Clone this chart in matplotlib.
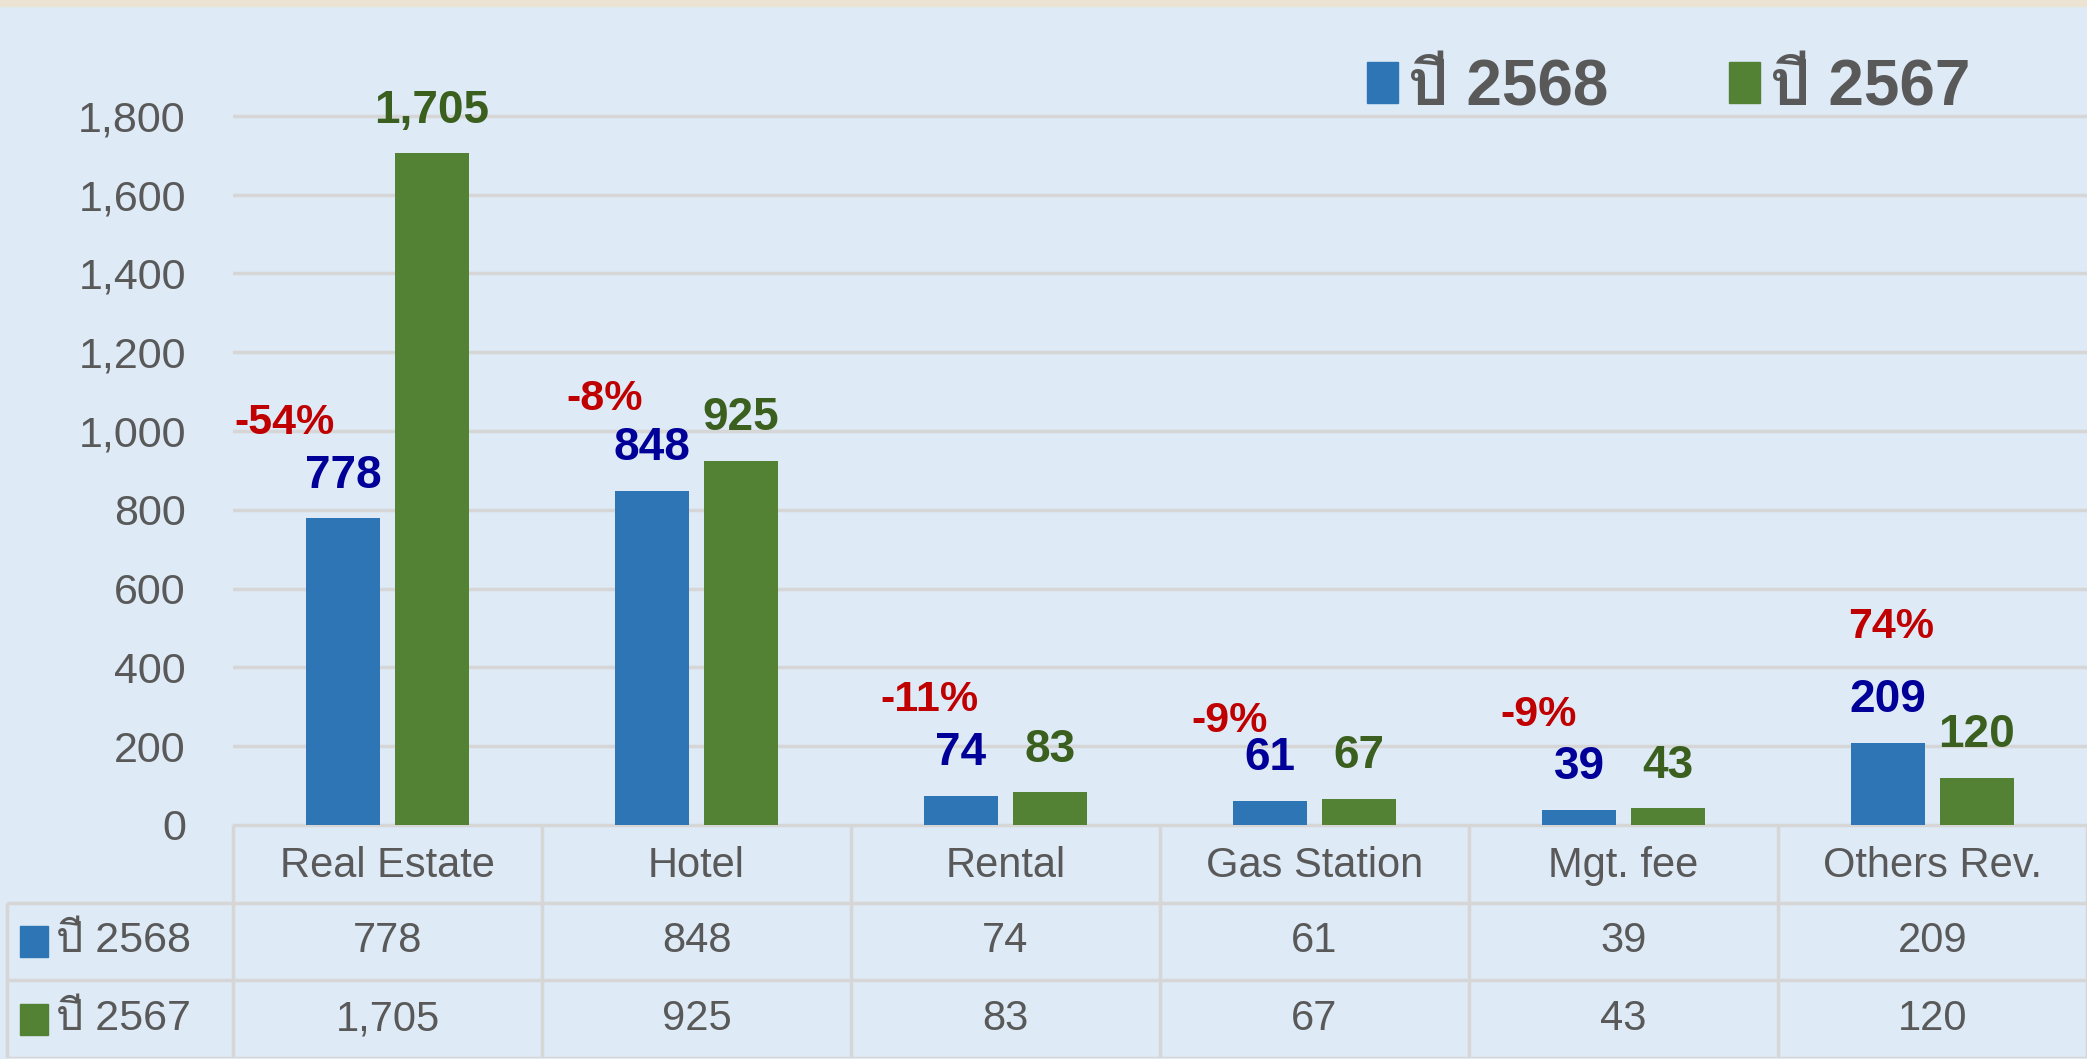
import numpy as np
import matplotlib
matplotlib.use("Agg")
import matplotlib.pyplot as plt
from matplotlib import font_manager
from matplotlib.ft2font import FT2Font
from matplotlib.patches import Patch, Rectangle
from matplotlib.ticker import FuncFormatter

categories = ["Real Estate", "Hotel", "Rental", "Gas Station", "Mgt. fee", "Others Rev."]
rev_2568 = [778, 848, 74, 61, 39, 209]
rev_2567 = [1705, 925, 83, 67, 43, 120]
series_names = ["ปี 2568", "ปี 2567"]
y_ticks = [0, 200, 400, 600, 800, 1000, 1200, 1400, 1600, 1800]

# nudges (points) for the % change labels, relative to the blue bar top
pct_dx = [-42, -34, -23, -29, -29, 2]
pct_dy = [61, 58, 61, 50, 60, 75]

BLUE = "#2E75B6"
GREEN = "#548235"
BG = "#DEEAF6"
GRID = "#D6D6D6"
GREY = "#595959"

# pick a narrow latin font and something that has Thai glyphs
names = {f.name for f in font_manager.fontManager.ttflist}
latin = "Liberation Sans Narrow" if "Liberation Sans Narrow" in names else "Liberation Sans"
thai = None
for f in font_manager.fontManager.ttflist:
    try:
        if 0x0E1B in FT2Font(f.fname).get_charmap():
            thai = f.name
            break
    except Exception:
        continue
fam = [latin] + ([thai] if thai else []) + ["DejaVu Sans"]
plt.rcParams["font.family"] = fam

W, H = 2087, 1059
fig = plt.figure(figsize=(W / 100, H / 100), dpi=100, facecolor=BG)
fig.add_artist(Rectangle((0, 1 - 6 / H), 1, 6 / H, transform=fig.transFigure,
                         color="#EDE3D3", zorder=0))

left_px, base_px, top_px = 233, 825, 37
ax = fig.add_axes([left_px / W, (H - base_px) / H, 1 - left_px / W, (base_px - top_px) / H])
ax.set_facecolor("none")
ax.set_xlim(-0.5, 5.5)
ax.set_ylim(0, 2000)
ax.set_yticks(y_ticks)
ax.yaxis.set_major_formatter(FuncFormatter(lambda v, p: f"{v:,.0f}"))
ax.tick_params(axis="y", length=0, pad=34, labelsize=31, labelcolor=GREY)
ax.set_xticks([])
for s in ax.spines.values():
    s.set_visible(False)
ax.grid(axis="y", color=GRID, lw=2.5)
ax.set_axisbelow(True)

x = np.arange(len(categories))
bw, off = 0.237, 0.144
ax.bar(x - off, rev_2568, bw, color=BLUE)
ax.bar(x + off, rev_2567, bw, color=GREEN)

for i in range(len(categories)):
    a, b = rev_2568[i], rev_2567[i]
    ax.annotate(f"{a:,}", (x[i] - off, a), xytext=(0, 22), textcoords="offset points",
                ha="center", va="baseline", fontsize=33, fontweight="bold", color="#000099")
    ax.annotate(f"{b:,}", (x[i] + off, b), xytext=(0, 22), textcoords="offset points",
                ha="center", va="baseline", fontsize=33, fontweight="bold", color="#3A5F1E")
    pct = (a - b) / b * 100
    ax.annotate(f"{pct:.0f}%", (x[i] - off, a), xytext=(pct_dx[i], pct_dy[i]),
                textcoords="offset points", ha="center", va="baseline",
                fontsize=31, fontweight="bold", color="#C00000")

# data table under the chart
col_w = (W - left_px) / len(categories)
tab = fig.add_axes([0, 1 / H, 1, (H - base_px - 1) / H])
tab.set_facecolor("none")
tab.set_xlim(-0.5 - left_px / col_w, 5.5)
tab.set_ylim(3, 0)
tab.axis("off")
lft = -0.5 - (left_px - 7) / col_w
tab.hlines([0], -0.5, 5.5, color=GRID, lw=2.5)
tab.hlines([1, 2, 3], lft, 5.5, color=GRID, lw=2.5)
tab.vlines(np.arange(-0.5, len(categories)), 0, 3, color=GRID, lw=2.5)
tab.vlines([lft], 1, 3, color=GRID, lw=2.5)

for i, c in enumerate(categories):
    tab.text(x[i], 0.53, c, ha="center", va="center", fontsize=30, color=GREY)
    tab.text(x[i], 1.5, f"{rev_2568[i]:,}", ha="center", va="center", fontsize=30, color=GREY)
    tab.text(x[i], 2.5, f"{rev_2567[i]:,}", ha="center", va="center", fontsize=30, color=GREY)

for r, (name, col) in enumerate(zip(series_names, [BLUE, GREEN])):
    tab.add_patch(Rectangle((lft + 13 / col_w, r + 1.3), 28 / col_w, 0.4, color=col))
    tab.text(lft + 49 / col_w, r + 1.5, name, ha="left", va="center", fontsize=31, color=GREY)

fig.legend(handles=[Patch(color=BLUE), Patch(color=GREEN)], labels=series_names,
           loc="center right", bbox_to_anchor=(1970 / W, 1 - 88 / H), ncol=2, frameon=False,
           prop={"size": 46, "weight": "bold"}, labelcolor=GREY, handlelength=0.48,
           handleheight=0.6, handletextpad=0.15, columnspacing=1.9,
           borderpad=0, borderaxespad=0)

fig.savefig("out.png", dpi=100, facecolor=BG)
